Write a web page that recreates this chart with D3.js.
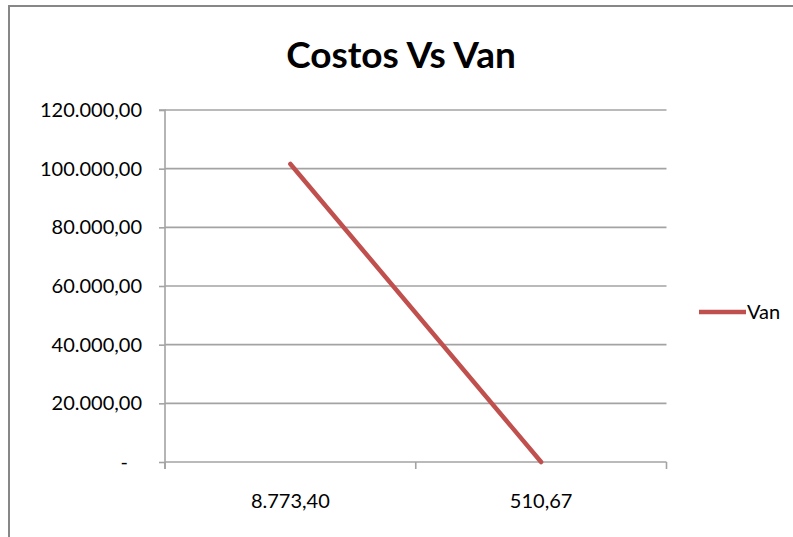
<!DOCTYPE html>
<html>
<head>
<meta charset="utf-8">
<script src="https://cdn.jsdelivr.net/npm/d3@7"></script>
<style>
  html, body { margin: 0; padding: 0; background: #fff; }
  svg { display: block; }
  text { font-family: Lato, "Open Sans", sans-serif; fill: #000; }
</style>
</head>
<body>
<svg id="chart" width="793" height="537"></svg>
<script>
// Data
const costos = ["8.773,40", "510,67"];
const van = [101600, 0];
const yTicks = [0, 20000, 40000, 60000, 80000, 100000, 120000];
const yTickLabels = ["-", "20.000,00", "40.000,00", "60.000,00", "80.000,00", "100.000,00", "120.000,00"];
const seriesName = "Van";
const chartTitle = "Costos Vs Van";

const W = 793, H = 537;
const margin = { left: 165, right: 126.5, top: 110, bottom: 75 };
const svg = d3.select("#chart");

// Outer chart-area frame
svg.append("rect")
  .attr("x", 9).attr("y", 6)
  .attr("width", W + 20).attr("height", H + 20)
  .attr("fill", "none").attr("stroke", "#878787").attr("stroke-width", 2);

const x = d3.scaleBand()
  .domain(costos)
  .range([margin.left, W - margin.right]);

const y = d3.scaleLinear()
  .domain([0, 120000])
  .range([H - margin.bottom, margin.top]);

const gridColor = "#a3a3a3";
const labelSize = "20px";

// Horizontal gridlines
svg.append("g")
  .selectAll("line")
  .data(yTicks)
  .join("line")
  .attr("x1", margin.left).attr("x2", W - margin.right)
  .attr("y1", d => y(d)).attr("y2", d => y(d))
  .attr("stroke", gridColor).attr("stroke-width", 1.6);

// Vertical axis with tick labels
const yAxis = d3.axisLeft(y)
  .tickValues(yTicks)
  .tickSize(6)
  .tickPadding(17)
  .tickFormat((d, i) => yTickLabels[i]);

const gy = svg.append("g")
  .attr("transform", `translate(${margin.left},0)`)
  .call(yAxis);
gy.select(".domain").attr("stroke", gridColor).attr("stroke-width", 1.6)
  .attr("d", `M-6,${y(120000)}H0V${y(0) + 7}`);
gy.selectAll(".tick line").attr("stroke", gridColor).attr("stroke-width", 1.6);
gy.selectAll(".tick text")
  .style("font-size", labelSize)
  .attr("fill", "#000")
  .attr("dx", d => d === 0 ? -14 : 0);

// Category axis: ticks sit between categories
const catEdges = [margin.left, ...costos.map(c => x(c) + x.bandwidth())];
svg.append("g")
  .selectAll("line")
  .data(catEdges)
  .join("line")
  .attr("x1", d => d).attr("x2", d => d)
  .attr("y1", y(0)).attr("y2", y(0) + 7)
  .attr("stroke", gridColor).attr("stroke-width", 1.6);

svg.append("g")
  .selectAll("text")
  .data(costos)
  .join("text")
  .attr("x", d => x(d) + x.bandwidth() / 2)
  .attr("y", y(0) + 46)
  .attr("text-anchor", "middle")
  .style("font-size", labelSize)
  .text(d => d);

// Series line
const line = d3.line()
  .x((d, i) => x(costos[i]) + x.bandwidth() / 2)
  .y(d => y(d));

svg.append("path")
  .datum(van)
  .attr("d", line)
  .attr("fill", "none")
  .attr("stroke", "#c0504d")
  .attr("stroke-width", 4.5)
  .attr("stroke-linecap", "round");

// Legend
const lg = svg.append("g").attr("transform", "translate(699,312)");
lg.append("line")
  .attr("x1", 0).attr("x2", 47).attr("y1", 0).attr("y2", 0)
  .attr("stroke", "#c0504d").attr("stroke-width", 4.5);
lg.append("text")
  .attr("x", 48).attr("y", 7)
  .style("font-size", labelSize)
  .text(seriesName);

// Title
svg.append("text")
  .attr("x", 401).attr("y", 68)
  .attr("text-anchor", "middle")
  .style("font-size", "37px")
  .style("font-weight", "bold")
  .text(chartTitle);
</script>
</body>
</html>
